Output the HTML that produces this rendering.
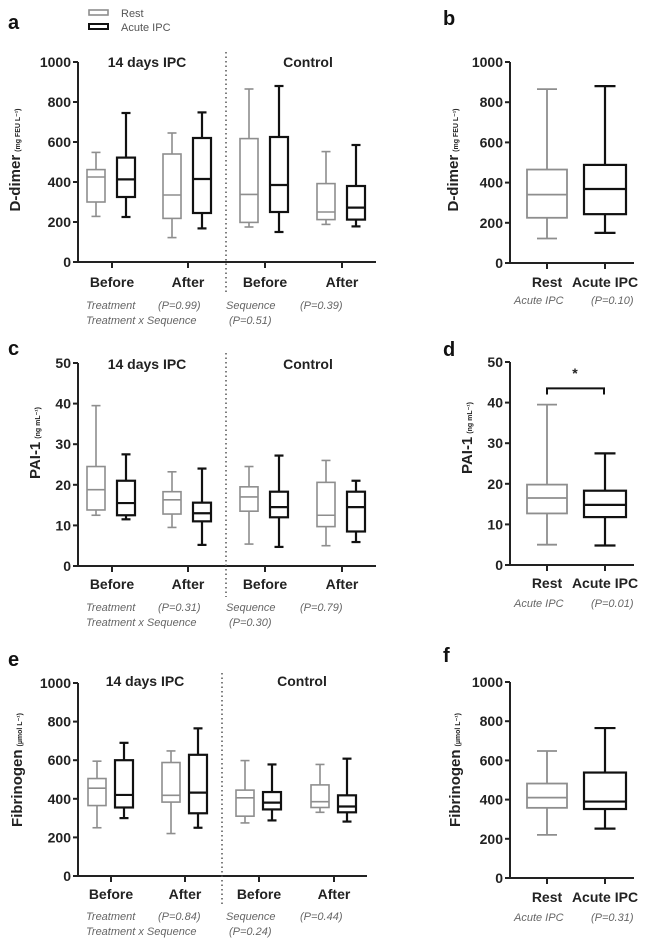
<!DOCTYPE html>
<html><head><meta charset="utf-8"><style>
body{margin:0;background:#fff;}
svg{display:block;font-family:"Liberation Sans",Arial,sans-serif;}
.t{font-weight:bold;font-size:14px;fill:#222;}
.p{font-style:italic;font-size:11px;fill:#666;}
</style></head><body>
<svg id="fig" width="659" height="944" viewBox="0 0 659 944"></svg>
<script>
const groups = ["Before","After","Before","After"];
// each box: [whiskerLow, q1, median, q3, whiskerHigh]
const aRest  = [[228,300,425,462,548],[122,218,335,540,645],[175,198,338,617,865],[188,212,250,392,552]];
const aAcute = [[225,325,413,522,745],[168,245,415,620,748],[150,250,385,625,880],[178,212,272,380,585]];
const bRest  = [122,225,340,465,865];
const bAcute = [150,243,368,488,880];
const cRest  = [[12.5,13.8,18.8,24.5,39.5],[9.5,12.8,16.3,18.3,23.2],[5.4,13.5,17,19.5,24.5],[5,9.7,12.5,20.6,26]];
const cAcute = [[11.5,12.5,15.5,21,27.5],[5.2,11,13,15.6,24],[4.7,12,14.5,18.3,27.2],[5.9,8.5,14.5,18.3,21]];
const dRest  = [5,12.7,16.5,19.8,39.5];
const dAcute = [4.8,11.8,14.8,18.3,27.5];
const eRest  = [[250,365,455,505,595],[220,383,418,588,648],[275,310,405,445,598],[330,355,385,472,578]];
const eAcute = [[300,355,420,600,690],[250,325,432,628,765],[288,345,380,435,578],[282,330,360,418,608]];
const fRest  = [220,358,410,482,648];
const fAcute = [252,352,390,538,765];
const ticks1000 = [0,200,400,600,800,1000];
const ticks50 = [0,10,20,30,40,50];

const NS="http://www.w3.org/2000/svg";
const svg=document.getElementById('fig');
function el(tag,attrs,parent,text){const e=document.createElementNS(NS,tag);for(const k in attrs)e.setAttribute(k,attrs[k]);if(text!==undefined)e.textContent=text;(parent||svg).appendChild(e);return e;}

function axes(g,x0,x1,yTop,yBot,max,ticks,name){
  const sy=v=>yBot-(v/max)*(yBot-yTop);
  const ax=el('g',{},g);
  
  
  el('line',{x1:x0,y1:yTop,x2:x0,y2:yBot,stroke:'#222','stroke-width':2},ax);
  el('line',{x1:x0,y1:yBot,x2:x1,y2:yBot,stroke:'#222','stroke-width':2},ax);
  ticks.forEach(t=>{
    el('line',{x1:x0-5,y1:sy(t),x2:x0,y2:sy(t),stroke:'#222','stroke-width':2},ax);
    const tx=el('text',{x:x0-7,y:sy(t)+5,'text-anchor':'end',class:'t'},ax,String(t));
    
    
  });
  return sy;
}
function box(g,cx,w,d,sy,color,sw,name){
  const b=el('g',{},g);
  
  
  const [lo,q1,md,q3,hi]=d;
  el('line',{x1:cx,y1:sy(lo),x2:cx,y2:sy(q1),stroke:color,'stroke-width':sw},b);
  el('line',{x1:cx,y1:sy(q3),x2:cx,y2:sy(hi),stroke:color,'stroke-width':sw},b);
  el('line',{x1:cx-w/4,y1:sy(lo),x2:cx+w/4,y2:sy(lo),stroke:color,'stroke-width':sw},b);
  el('line',{x1:cx-w/4,y1:sy(hi),x2:cx+w/4,y2:sy(hi),stroke:color,'stroke-width':sw},b);
  el('rect',{x:cx-w/2,y:sy(q3),width:w,height:sy(q1)-sy(q3),fill:'none',stroke:color,'stroke-width':sw},b);
  el('line',{x1:cx-w/2,y1:sy(md),x2:cx+w/2,y2:sy(md),stroke:color,'stroke-width':sw},b);
}
function ytitle(x,y,main,unit,name){
  const t=el('text',{transform:`translate(${x},${y}) rotate(-90)`,'text-anchor':'middle',class:'t','font-size':'15'},svg);
  
  
  el('tspan',{'font-size':'15'},t,main);
  el('tspan',{'font-size':'7','dx':'3'},t,unit);
}
function letter(x,y,s){
  const t=el('text',{x:x,y:y,'font-size':'20','font-weight':'bold',fill:'#111'},svg,s);
  
  
}
function txt(x,y,s,cls,anchor,name){
  const t=el('text',{x:x,y:y,class:cls,'text-anchor':anchor||'start'},svg,s);
  
  
  return t;
}

function bigPanel(key,yTop,yBot,max,ticks,rest,acute,catX,offR,offA,dotX,xEnd,titleY,labY,pY,pv,titleX){
  const g=el('g',{});
  
  
  const sy=axes(g,78,xEnd,yTop,yBot,max,ticks,'panel-'+key);
  const dl=el('line',{x1:dotX,y1:yTop-10,x2:dotX,y2:labY+8,stroke:'#555','stroke-width':1.5,'stroke-dasharray':'1.5,3'},g);
  
  
  groups.forEach((c,i)=>{
    el('line',{x1:catX[i],y1:yBot,x2:catX[i],y2:yBot+6,stroke:'#222','stroke-width':2},g);
    txt(catX[i],labY,c,'t','middle','x-label-'+c.toLowerCase());
    box(g,catX[i]+offR,18,rest[i],sy,'#8e8e8e',1.6,'box-rest-'+i);
    box(g,catX[i]+offA,18,acute[i],sy,'#111',2.2,'box-acute-'+i);
  });
  txt(titleX[0],titleY,'14 days IPC','t','middle','group-title-14-days-ipc').setAttribute('font-size','16');
  txt(titleX[1],titleY,'Control','t','middle','group-title-control').setAttribute('font-size','16');
  txt(86,pY,'Treatment','p','start','p-treatment-label');
  txt(158,pY,'(P='+pv[0]+')','p','start','p-treatment-value');
  txt(226,pY,'Sequence','p','start','p-sequence-label');
  txt(300,pY,'(P='+pv[1]+')','p','start','p-sequence-value');
  txt(86,pY+15,'Treatment x Sequence','p','start','p-interaction-label');
  txt(229,pY+15,'(P='+pv[2]+')','p','start','p-interaction-value');
}
function smallPanel(key,yTop,yBot,max,ticks,rest,acute,labY,pY,pv){
  const g=el('g',{});
  
  
  const sy=axes(g,510,634,yTop,yBot,max,ticks,'panel-'+key);
  [547,605].forEach(x=>el('line',{x1:x,y1:yBot,x2:x,y2:yBot+6,stroke:'#222','stroke-width':2},g));
  box(g,547,40,rest,sy,'#8e8e8e',1.8,'box-rest');
  box(g,605,42,acute,sy,'#111',2.2,'box-acute');
  txt(547,labY,'Rest','t','middle','x-label-rest');
  txt(605,labY,'Acute IPC','t','middle','x-label-acute-ipc');
  txt(514,pY,'Acute IPC','p','start','p-acute-label');
  txt(591,pY,'(P='+pv+')','p','start','p-acute-value');
  return sy;
}

// legend
const lg=el('g',{});


el('rect',{x:89,y:10,width:19,height:5,fill:'none',stroke:'#8e8e8e','stroke-width':1.6},lg);
el('rect',{x:89,y:24,width:19,height:5,fill:'none',stroke:'#111','stroke-width':2},lg);
txt(121,17,'Rest','p','start','legend-entry-rest').setAttribute('style','font-style:normal;font-size:11px;fill:#555');
txt(121,31,'Acute IPC','p','start','legend-entry-acute-ipc').setAttribute('style','font-style:normal;font-size:11px;fill:#555');

letter(8,29,'a');
ytitle(20,160,'D-dimer','(mg FEU L⁻¹)','y-axis-title-d-dimer');
bigPanel('a',62,262,1000,ticks1000,aRest,aAcute,[112,188,265,342],-16,14,226,376,67,287,309,['0.99','0.39','0.51'],[147,308]);

letter(443,25,'b');
ytitle(458,160,'D-dimer','(mg FEU L⁻¹)','y-axis-title-d-dimer-b');
smallPanel('b',62,263,1000,ticks1000,bRest,bAcute,287,304,'0.10');

letter(8,355,'c');
ytitle(40,443,'PAI-1','(ng mL⁻¹)','y-axis-title-pai-1');
bigPanel('c',363,566,50,ticks50,cRest,cAcute,[112,188,265,342],-16,14,226,376,369,589,611,['0.31','0.79','0.30'],[147,308]);

letter(443,356,'d');
ytitle(472,438,'PAI-1','(ng mL⁻¹)','y-axis-title-pai-1-d');
const syd=smallPanel('d',362,565,50,ticks50,dRest,dAcute,588,607,'0.01');
const br=el('path',{d:`M547 ${syd(42)} L547 ${syd(43.5)} L604 ${syd(43.5)} L604 ${syd(42)}`,fill:'none',stroke:'#111','stroke-width':2});


txt(575,378,'*','t','middle','significance-star').setAttribute('font-size','18');

letter(8,666,'e');
ytitle(22,770,'Fibrinogen','(µmol L⁻¹)','y-axis-title-fibrinogen');
bigPanel('e',683,876,1000,ticks1000,eRest,eAcute,[111,185,259,334],-14,13,222,367,686,899,920,['0.84','0.44','0.24'],[145,302]);

letter(443,662,'f');
ytitle(460,770,'Fibrinogen','(µmol L⁻¹)','y-axis-title-fibrinogen-f');
smallPanel('f',682,878,1000,ticks1000,fRest,fAcute,902,921,'0.31');
</script>
</body></html>
